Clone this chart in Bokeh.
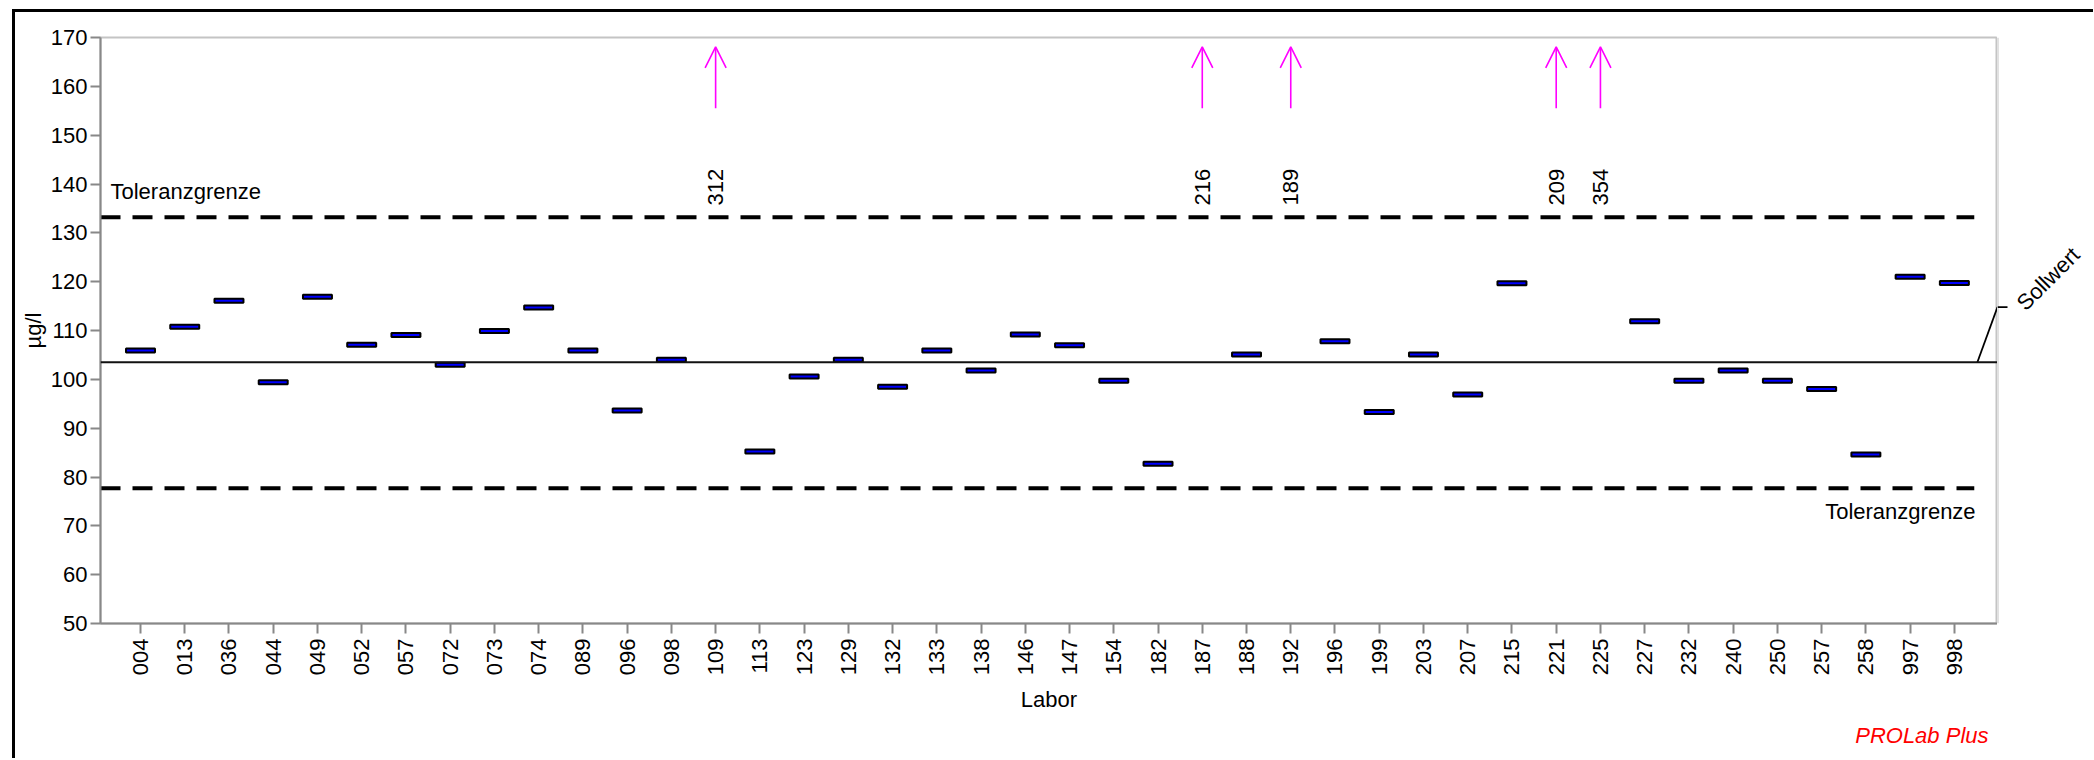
import math
from bokeh.plotting import figure
from bokeh.layouts import row
from bokeh.models import Arrow, OpenHead, Label, FixedTicker, ColumnDataSource, Span, Title, Range1d
from bokeh.embed import file_html
from bokeh.resources import INLINE
from bokeh.core.properties import value

# ---------------- data ----------------
labs = ["004", "013", "036", "044", "049", "052", "057", "072", "073", "074",
        "089", "096", "098", "109", "113", "123", "129", "132", "133", "138",
        "146", "147", "154", "182", "187", "188", "192", "196", "199", "203",
        "207", "215", "221", "225", "227", "232", "240", "250", "257", "258",
        "997", "998"]
vals = [105.9, 110.75, 116.1, 99.4, 116.9, 107.1, 109.1, 103.0, 109.9, 114.7,
        105.9, 93.6, 104.0, None, 85.2, 100.6, 104.0, 98.5, 105.9, 101.8,
        109.2, 107.0, 99.7, 82.7, None, 105.1, None, 107.8, 93.3, 105.1,
        96.9, 119.7, None, None, 111.9, 99.7, 101.8, 99.7, 98.0, 84.6,
        121.0, 119.75]
out_labs = ["109", "187", "192", "221", "225"]
out_vals = ["312", "216", "189", "209", "354"]
sollwert = 103.5
tol_upper = 133.2
tol_lower = 77.7
yticks = list(range(50, 171, 10))

FONT = "Liberation Sans"
FS = "22px"

idx = {l: i for i, l in enumerate(labs)}
xs = list(range(len(labs)))
ys = [float("nan") if v is None else v for v in vals]

H = 746
MB_TOP, MB_BOT = 25, 135
yr = Range1d(50, 170)
p = figure(width=1982, height=H, output_backend="svg", toolbar_location=None,
           x_range=(-0.904, 41.975), y_range=yr,
           min_border_left=85, min_border_right=0, min_border_top=MB_TOP, min_border_bottom=MB_BOT)
p.background_fill_color = "white"
p.border_fill_color = "white"
p.outline_line_color = "#c4c4c4"
p.outline_line_width = 2
p.xgrid.visible = False
p.ygrid.visible = False

for ax in (p.xaxis[0], p.yaxis[0]):
    ax.axis_line_color = "#888888"
    ax.axis_line_width = 2
    ax.major_tick_line_color = "#888888"
    ax.major_tick_line_width = 2
    ax.major_tick_out = 10
    ax.major_tick_in = 0
    ax.minor_tick_line_color = None
    ax.major_label_text_font = FONT
    ax.major_label_text_font_size = FS
    ax.major_label_text_color = "black"
    ax.axis_label_text_font = FONT
    ax.axis_label_text_font_size = FS
    ax.axis_label_text_font_style = "normal"
    ax.axis_label_text_color = "black"

p.xaxis.ticker = FixedTicker(ticks=xs)
p.xaxis.major_label_overrides = {i: l for i, l in enumerate(labs)}
p.xaxis.major_label_orientation = math.pi / 2
p.xaxis.major_label_standoff = 5
p.xaxis.axis_label = "Labor"
p.xaxis.axis_label_standoff = 9
p.yaxis.ticker = FixedTicker(ticks=yticks)
p.yaxis.major_label_standoff = 3
p.yaxis.axis_label = "µg/l"
p.yaxis.axis_label_standoff = 2

# reference line and tolerance limits
p.add_layout(Span(location=sollwert, dimension="width", line_color="#111111", line_width=1.8))
p.segment(x0=[-0.904, -0.904], y0=[tol_upper, tol_lower], x1=[41.45, 41.45], y1=[tol_upper, tol_lower],
          line_color="black", line_width=4, line_dash="20 12")

# markers
p.rect(x=xs, y=ys, width=0.655, height=4, height_units="screen",
       fill_color="#0000ff", line_color="black", line_width=2)

# outliers
ox = [idx[l] for l in out_labs]
osrc = ColumnDataSource(dict(x=ox, y0=[155.5] * len(ox), y1=[168.1] * len(ox)))
p.add_layout(Arrow(end=OpenHead(size=21, line_color="#ff00ff", line_width=1.6),
                   x_start="x", y_start="y0", x_end="x", y_end="y1", source=osrc,
                   line_color="#ff00ff", line_width=1.6))
p.text(x=ox, y=[135.6] * len(ox), text=out_vals, angle=math.pi / 2,
       text_align="left", text_baseline="middle", text_font=value(FONT),
       text_font_size=FS, text_color="black")

# labels
p.add_layout(Label(x=-0.678, y=138.5, text="Toleranzgrenze", text_font=FONT, text_font_size=FS,
                   text_color="black", text_baseline="alphabetic", text_align="left"))
p.add_layout(Label(x=41.48, y=72.9, text="Toleranzgrenze", text_font=FONT, text_font_size=FS,
                   text_color="black", text_baseline="alphabetic", text_align="right"))
p.line(x=[41.52, 41.975], y=[sollwert, 114.8], line_color="black", line_width=1.8)
p.add_layout(Title(text="PROLab Plus", align="right", text_color="#ff0000", text_font_style="italic",
                   text_font=FONT, text_font_size=FS, offset=9), "below")

# right strip (outside the plot frame) for the Sollwert marker
p2 = figure(width=96, height=H, output_backend="svg", toolbar_location=None,
            x_range=Range1d(0, 96), y_range=yr, x_axis_location=None, y_axis_location=None,
            min_border_left=0, min_border_right=0, min_border_top=MB_TOP, min_border_bottom=MB_BOT)
p2.outline_line_color = None
p2.xgrid.visible = False
p2.ygrid.visible = False
p2.segment(x0=[0, 0], y0=[50, 114.8], x1=[0, 10], y1=[170, 114.8],
           line_color=["#c4c4c4", "black"], line_width=[2, 1.8])
p2.text(x=[23], y=[114.9], text=["Sollwert"], angle=math.pi / 4, text_align="left",
        text_baseline="middle", text_font=value(FONT), text_font_size=FS, text_color="black")

lay = row(p, p2, spacing=0)
lay.styles = {"border-left": "3px solid black", "border-top": "3px solid black",
              "margin-left": "12px", "margin-top": "9px"}

open("out.html", "w").write(file_html(lay, INLINE))
